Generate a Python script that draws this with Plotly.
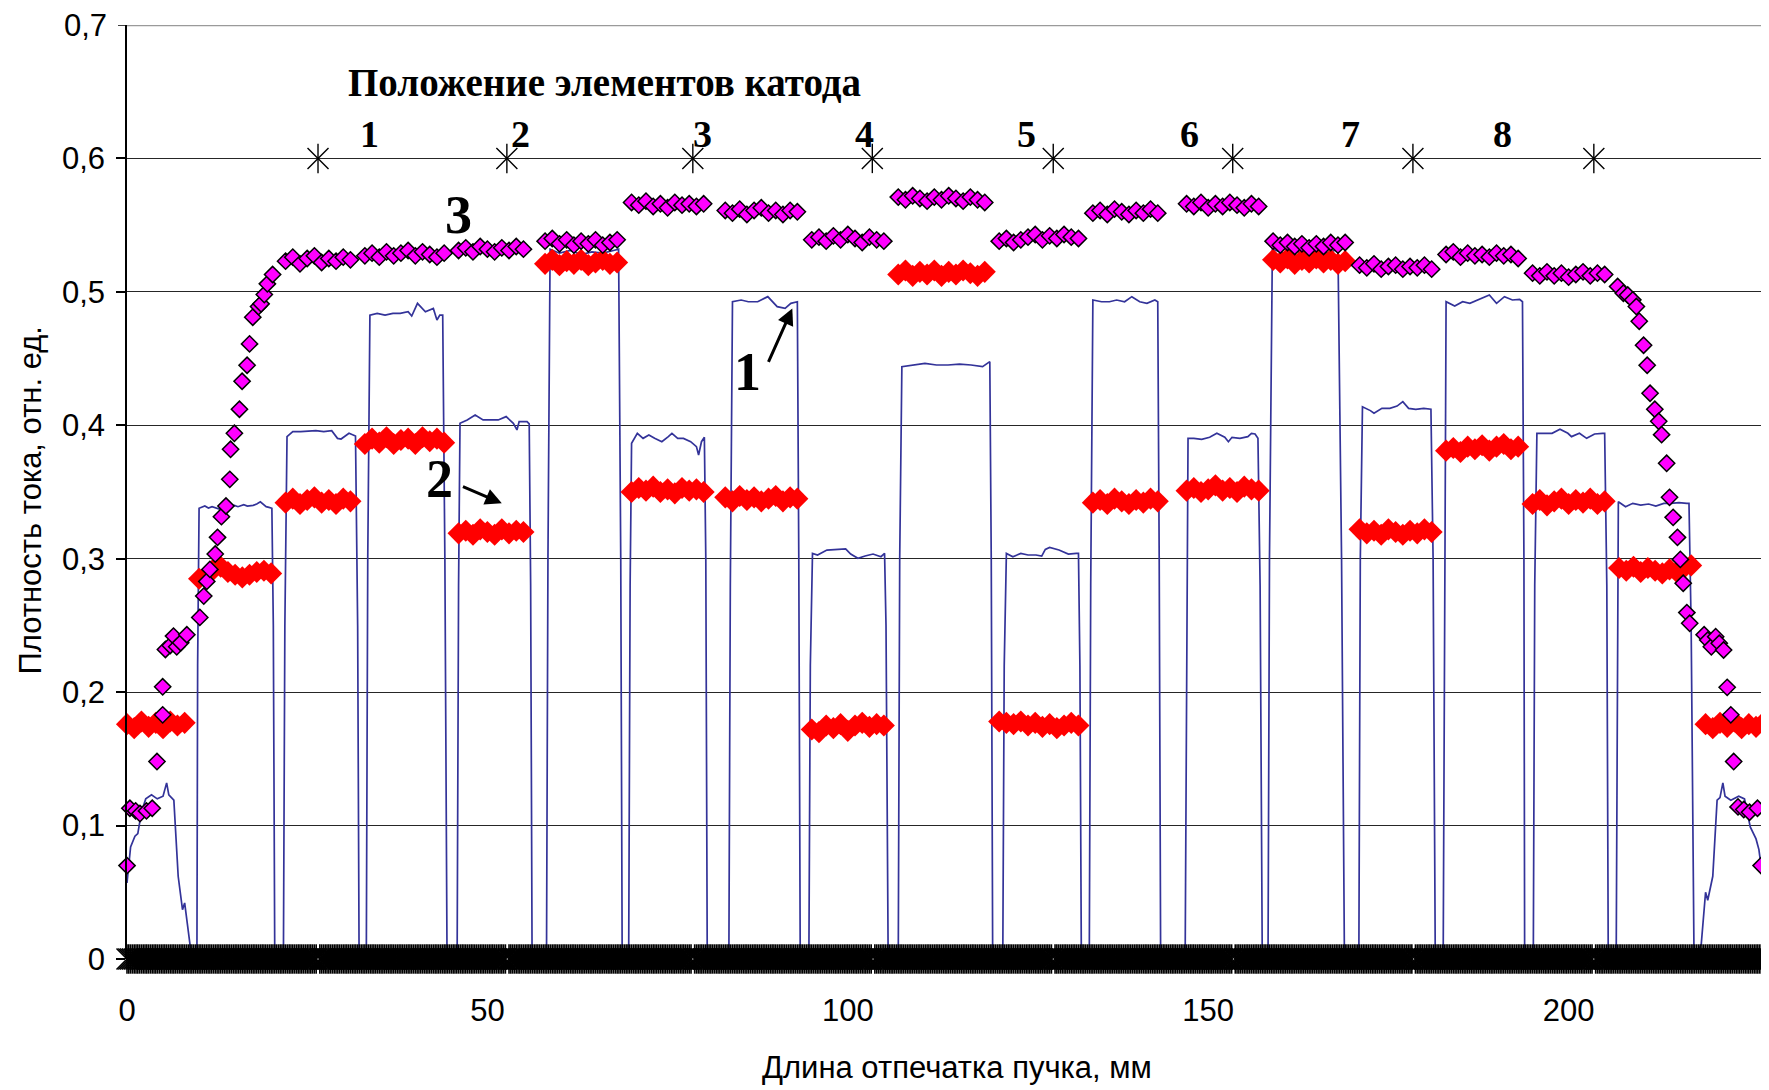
import plotly.graph_objects as go

# ---------------- data ----------------
grid_mm = list(range(229))  # measurement positions, 1 mm step

# curve 2 (red diamonds), one value per grid position
red_y = (
    [0.176, 0.173, 0.178, 0.174, 0.177, 0.173, 0.178, 0.175, 0.177] + [0.0] +
    [0.285, 0.287, 0.292, 0.294, 0.290, 0.288, 0.286, 0.288, 0.290, 0.291, 0.289] + [0.0] +
    [0.342, 0.345, 0.341, 0.344, 0.346, 0.342, 0.344, 0.341, 0.345, 0.343] + [0.0] +
    [0.386, 0.390, 0.387, 0.391, 0.386, 0.389, 0.390, 0.386, 0.391, 0.388, 0.390, 0.387] + [0.0] +
    [0.319, 0.321, 0.318, 0.322, 0.320, 0.318, 0.322, 0.319, 0.321, 0.320] + [0.0, 0.0] +
    [0.521, 0.524, 0.520, 0.523, 0.521, 0.524, 0.520, 0.522, 0.524, 0.521, 0.522] + [0.0] +
    [0.350, 0.353, 0.351, 0.354, 0.350, 0.352, 0.349, 0.353, 0.351, 0.352, 0.350] + [0.0, 0.0] +
    [0.346, 0.343, 0.347, 0.344, 0.346, 0.343, 0.345, 0.347, 0.343, 0.346, 0.345] + [0.0] +
    [0.172, 0.170, 0.175, 0.173, 0.176, 0.171, 0.175, 0.177, 0.174, 0.176, 0.175] + [0.0] +
    [0.513, 0.516, 0.512, 0.515, 0.513, 0.516, 0.512, 0.515, 0.513, 0.516, 0.514, 0.512, 0.515] + [0.0] +
    [0.178, 0.177, 0.176, 0.178, 0.175, 0.177, 0.174, 0.176, 0.173, 0.175, 0.177, 0.175] + [0.0] +
    [0.342, 0.344, 0.341, 0.345, 0.343, 0.341, 0.344, 0.342, 0.345, 0.343] + [0.0, 0.0, 0.0] +
    [0.351, 0.353, 0.350, 0.352, 0.355, 0.351, 0.353, 0.350, 0.354, 0.352, 0.351] + [0.0] +
    [0.524, 0.522, 0.525, 0.521, 0.524, 0.522, 0.525, 0.522, 0.524, 0.521, 0.523] + [0.0] +
    [0.322, 0.319, 0.321, 0.318, 0.322, 0.320, 0.318, 0.321, 0.319, 0.322, 0.320] + [0.0] +
    [0.381, 0.383, 0.380, 0.384, 0.382, 0.385, 0.381, 0.384, 0.386, 0.382, 0.384] + [0.0] +
    [0.341, 0.344, 0.340, 0.343, 0.345, 0.341, 0.344, 0.342, 0.345, 0.341, 0.343] + [0.0] +
    [0.293, 0.291, 0.294, 0.290, 0.293, 0.291, 0.289, 0.292, 0.290, 0.293, 0.295] + [0.0] +
    [0.176, 0.173, 0.177, 0.174, 0.178, 0.173, 0.176, 0.174, 0.177, 0.175]
)

# curve 3 (magenta diamonds), plateau part on the grid (None = no point)
mag_y = (
    [None] * 22 +
    [0.523, 0.526, 0.521, 0.525, 0.527, 0.522, 0.525, 0.523, 0.526, 0.524] + [0.0] +
    [0.527, 0.529, 0.526, 0.530, 0.527, 0.529, 0.531, 0.527, 0.530, 0.528, 0.526, 0.529] + [0.0] +
    [0.531, 0.533, 0.530, 0.534, 0.532, 0.530, 0.533, 0.531, 0.534, 0.532] + [0.0, 0.0] +
    [0.538, 0.540, 0.536, 0.539, 0.535, 0.538, 0.536, 0.539, 0.535, 0.537, 0.539] + [0.0] +
    [0.567, 0.565, 0.568, 0.564, 0.566, 0.563, 0.567, 0.565, 0.566, 0.564, 0.566] + [0.0, 0.0] +
    [0.561, 0.559, 0.562, 0.558, 0.561, 0.563, 0.559, 0.561, 0.558, 0.561, 0.560] + [0.0] +
    [0.539, 0.541, 0.538, 0.542, 0.539, 0.543, 0.540, 0.537, 0.541, 0.539, 0.538] + [0.0] +
    [0.571, 0.569, 0.572, 0.570, 0.568, 0.571, 0.569, 0.572, 0.570, 0.568, 0.571, 0.569, 0.567] + [0.0] +
    [0.538, 0.540, 0.537, 0.539, 0.541, 0.543, 0.539, 0.542, 0.540, 0.543, 0.541, 0.540] + [0.0] +
    [0.559, 0.561, 0.558, 0.562, 0.560, 0.558, 0.561, 0.559, 0.562, 0.559] + [0.0, 0.0, 0.0] +
    [0.566, 0.564, 0.567, 0.563, 0.566, 0.564, 0.567, 0.565, 0.563, 0.566, 0.564] + [0.0] +
    [0.538, 0.535, 0.537, 0.534, 0.536, 0.533, 0.536, 0.534, 0.537, 0.535, 0.537] + [0.0] +
    [0.520, 0.518, 0.521, 0.517, 0.519, 0.520, 0.517, 0.519, 0.518, 0.520, 0.517] + [0.0] +
    [0.528, 0.530, 0.526, 0.529, 0.527, 0.528, 0.526, 0.529, 0.527, 0.528, 0.525] + [0.0] +
    [0.514, 0.512, 0.515, 0.512, 0.514, 0.511, 0.513, 0.515, 0.512, 0.514, 0.513] +
    [None] * 23
)

# curve 3, rising and falling flanks
mag_left_x = [0.0, 0.4, 1.2, 1.8, 2.7, 3.5, 4.16, 4.95, 4.95, 5.33, 6.0, 6.45, 6.9, 7.45, 8.3,
              10.1, 10.65, 11.07, 11.5, 12.24, 12.56, 13.1, 13.73, 14.26, 14.37, 14.9, 15.6,
              15.97, 16.66, 17.0, 17.45, 18.25, 18.6, 19.05, 19.47, 20.2]
mag_left_y = [0.070, 0.113, 0.111, 0.109, 0.111, 0.113, 0.148, 0.183, 0.204, 0.232, 0.235, 0.242,
              0.234, 0.237, 0.243, 0.256, 0.272, 0.283, 0.292, 0.3035, 0.316, 0.3315, 0.3395,
              0.3595, 0.382, 0.394, 0.412, 0.433, 0.445, 0.461, 0.481, 0.489, 0.491, 0.498,
              0.506, 0.513]
mag_right_x = [206.8, 207.6, 208.2, 208.9, 209.4, 209.8, 210.4, 210.9, 211.3, 211.96, 212.5,
               212.9, 213.6, 214.0, 214.5, 215.1, 215.5, 215.9, 216.4, 216.8, 218.8, 219.3,
               219.8, 220.4, 220.9, 221.5, 222.0, 222.5, 222.9, 223.5, 224.3, 225.1, 226.2, 226.7]
mag_right_y = [0.504, 0.499, 0.4976, 0.494, 0.489, 0.478, 0.460, 0.445, 0.424, 0.412, 0.403,
               0.393, 0.3715, 0.346, 0.331, 0.316, 0.2995, 0.2816, 0.2596, 0.2516, 0.243, 0.239,
               0.234, 0.2416, 0.2366, 0.2316, 0.2036, 0.183, 0.148, 0.114, 0.112, 0.110, 0.113,
               0.070]

# curve 1 (blue line)
beam_x = (
    [0.0, 0.5, 1.1, 1.5, 2.0, 2.6, 3.4, 4.2, 5.0, 5.5, 5.8, 6.5, 7.1, 7.7, 8.0, 8.7, 9.0] +
    [9.7, 9.8, 10.0, 10.8, 11.3, 11.8, 12.8, 13.6, 14.9, 15.4, 16.2, 16.7, 17.5, 18.0, 18.5, 18.9, 19.3, 19.7, 20.1, 20.3, 20.5] +
    [21.7, 21.9, 22.2, 23.0, 24.1, 24.9, 26.2, 27.3, 28.4, 29.2, 29.7, 30.8, 31.7, 32.0, 32.2] +
    [33.2, 33.4, 33.7, 34.7, 35.8, 36.9, 37.9, 39.0, 39.5, 40.3, 41.4, 42.5, 43.0, 43.4, 43.8, 44.1, 44.4] +
    [45.8, 46.0, 46.2, 47.2, 48.3, 49.4, 50.4, 51.5, 52.6, 53.6, 54.1, 54.4, 55.5, 55.8, 56.0, 56.2] +
    [58.2, 58.4, 58.7, 60.0, 61.5, 63.0, 64.5, 66.0, 67.5, 68.2, 68.5, 68.7] +
    [69.6, 69.8, 70.0, 70.8, 71.6, 72.4, 73.2, 74.2, 75.1, 75.6, 76.4, 77.2, 78.2, 79.0, 79.3, 79.7, 80.1, 80.3, 80.5] +
    [83.5, 83.7, 84.0, 85.2, 86.2, 87.5, 88.9, 90.2, 91.3, 92.1, 93.0, 93.2, 93.4] +
    [94.6, 94.8, 95.1, 95.8, 97.1, 98.7, 99.7, 100.4, 101.4, 102.4, 103.5, 104.6, 105.1, 105.3, 105.6] +
    [107.0, 107.2, 107.5, 109.1, 110.7, 112.3, 113.9, 115.5, 117.1, 118.7, 119.7, 119.9, 120.1] +
    [121.5, 121.7, 122.0, 122.9, 124.0, 125.0, 126.1, 126.9, 127.4, 128.0, 129.3, 130.6, 131.7, 132.0, 132.2, 132.4] +
    [133.5, 133.7, 134.0, 135.2, 136.3, 137.3, 138.4, 139.4, 140.5, 141.5, 142.6, 143.0, 143.2, 143.4] +
    [146.8, 147.0, 147.2, 148.0, 149.1, 150.2, 151.2, 152.3, 152.8, 153.3, 154.4, 155.5, 156.0, 156.5, 156.9, 157.2, 157.5] +
    [158.3, 158.5, 158.9, 160.5, 162.0, 163.5, 165.0, 166.5, 168.0, 168.5, 168.9] +
    [170.9, 171.1, 171.4, 172.5, 173.0, 174.1, 175.2, 176.2, 177.0, 177.8, 178.8, 179.9, 180.9, 181.2, 181.5] +
    [182.6, 182.8, 183.0, 184.2, 185.3, 186.3, 187.4, 188.4, 189.0, 190.0, 191.1, 192.2, 193.2, 193.6, 193.8, 193.9] +
    [195.1, 195.3, 195.6, 196.7, 197.7, 198.8, 199.9, 200.4, 201.5, 202.5, 203.6, 204.7, 205.0, 205.3, 205.5] +
    [206.6, 206.8, 206.9, 207.9, 208.9, 210.0, 211.1, 212.1, 213.2, 214.2, 215.3, 216.4, 216.7, 217.0, 217.4] +
    [218.4, 219.0, 219.3, 220.0, 220.6, 221.0, 221.4, 221.7, 222.5, 223.6, 224.4, 225.2, 226.0, 226.4, 227.0]
)
beam_y = (
    [0.057, 0.084, 0.092, 0.094, 0.110, 0.120, 0.123, 0.120, 0.122, 0.132, 0.123, 0.119, 0.062, 0.037, 0.042, 0.011, 0.0] +
    [0.0, 0.22, 0.3378, 0.3395, 0.338, 0.339, 0.3372, 0.3395, 0.340, 0.339, 0.3405, 0.3395, 0.340, 0.341, 0.3427, 0.3405, 0.339, 0.3385, 0.3378, 0.25, 0.0] +
    [0.0, 0.25, 0.3915, 0.3952, 0.3952, 0.3957, 0.396, 0.3952, 0.396, 0.3902, 0.3897, 0.394, 0.392, 0.25, 0.0] +
    [0.0, 0.3, 0.4826, 0.4839, 0.4826, 0.4839, 0.4839, 0.4851, 0.4819, 0.4914, 0.4851, 0.4876, 0.4789, 0.4826, 0.4826, 0.3, 0.0] +
    [0.0, 0.28, 0.4015, 0.404, 0.4077, 0.404, 0.404, 0.404, 0.4065, 0.4015, 0.3965, 0.4027, 0.4027, 0.401, 0.28, 0.0] +
    [0.0, 0.3, 0.532, 0.529, 0.531, 0.528, 0.530, 0.529, 0.531, 0.532, 0.3, 0.0] +
    [0.0, 0.28, 0.3865, 0.394, 0.3902, 0.3927, 0.3902, 0.3877, 0.3915, 0.394, 0.3902, 0.3902, 0.3877, 0.384, 0.3777, 0.3877, 0.391, 0.3, 0.0] +
    [0.0, 0.28, 0.4926, 0.4939, 0.4926, 0.4926, 0.4964, 0.4889, 0.4876, 0.4914, 0.4926, 0.3, 0.0] +
    [0.0, 0.22, 0.304, 0.3028, 0.3065, 0.3073, 0.3073, 0.3035, 0.3003, 0.302, 0.3035, 0.3015, 0.304, 0.25, 0.0] +
    [0.0, 0.3, 0.4439, 0.4452, 0.4464, 0.4452, 0.4452, 0.4459, 0.4452, 0.4439, 0.4477, 0.3, 0.0] +
    [0.0, 0.22, 0.304, 0.3015, 0.304, 0.3028, 0.3028, 0.302, 0.307, 0.3085, 0.3065, 0.3035, 0.304, 0.304, 0.22, 0.0] +
    [0.0, 0.28, 0.4939, 0.4926, 0.4926, 0.4939, 0.4926, 0.4964, 0.4926, 0.4914, 0.4939, 0.4926, 0.3, 0.0] +
    [0.0, 0.25, 0.3902, 0.3902, 0.3895, 0.391, 0.394, 0.391, 0.3877, 0.391, 0.3902, 0.3915, 0.394, 0.3935, 0.3902, 0.28, 0.0] +
    [0.0, 0.3, 0.532, 0.529, 0.531, 0.528, 0.530, 0.529, 0.532, 0.3, 0.0] +
    [0.0, 0.3, 0.4139, 0.411, 0.409, 0.4127, 0.4127, 0.4144, 0.4177, 0.4127, 0.412, 0.4127, 0.412, 0.3, 0.0] +
    [0.0, 0.3, 0.4926, 0.4894, 0.4926, 0.4914, 0.4939, 0.4964, 0.4976, 0.4914, 0.4964, 0.4939, 0.4944, 0.4926, 0.3, 0.0] +
    [0.0, 0.28, 0.394, 0.394, 0.394, 0.397, 0.394, 0.3915, 0.394, 0.3902, 0.3935, 0.394, 0.394, 0.28, 0.0] +
    [0.0, 0.22, 0.3427, 0.339, 0.3415, 0.3402, 0.341, 0.3395, 0.3415, 0.3415, 0.342, 0.3415, 0.3415, 0.25, 0.0] +
    [0.011, 0.05, 0.044, 0.062, 0.119, 0.121, 0.132, 0.122, 0.119, 0.122, 0.120, 0.099, 0.09, 0.082, 0.057]
)

# cathode element positions (asterisks at 0.6) and their numbers
cathode_x = [26.5, 52.7, 78.5, 103.4, 128.5, 153.4, 178.4, 203.5]
cathode_level = 0.6
element_labels = ["1", "2", "3", "4", "5", "6", "7", "8"]
element_label_x = [33.6, 54.6, 79.8, 102.3, 124.8, 147.4, 169.8, 190.8]
element_label_y = 0.618

# the asterisk series is zero everywhere else (dense sampling)
baseline_step = 0.25
baseline_x = [i * baseline_step for i in range(913)
              if min(abs(i * baseline_step - c) for c in cathode_x) > 0.13]
baseline_y = [0.0] * len(baseline_x)

y_ticks = [0, 0.1, 0.2, 0.3, 0.4, 0.5, 0.6, 0.7]
y_ticktext = ["0", "0,1", "0,2", "0,3", "0,4", "0,5", "0,6", "0,7"]
x_ticks = [0, 50, 100, 150, 200]
x_ticktext = ["0", "50", "100", "150", "200"]

# ---------------- figure ----------------
BODY = 8                      # default page margin around the plot div
W, H = 1769 - BODY, 1090 - BODY
ML, MR, MT, MB = 127 - BODY, 0, 25 - BODY, 131
PW, PH = W - ML - MR, H - MT - MB
PLOT_LEFT, PLOT_BOTTOM = 127, 959   # in page pixels

fig = go.Figure()

fig.add_trace(go.Scatter(x=beam_x, y=beam_y, mode="lines",
                         line=dict(color="#333399", width=1.7), hoverinfo="skip"))

fig.add_trace(go.Scatter(x=grid_mm, y=red_y, mode="markers", cliponaxis=False,
                         marker=dict(symbol="diamond", size=17, color="#FF0000",
                                     line=dict(width=0)), hoverinfo="skip"))

mag_marker = dict(symbol="diamond", size=12.5, color="#FF00FF", line=dict(color="black", width=1.5))
fig.add_trace(go.Scatter(x=grid_mm, y=mag_y, mode="markers", cliponaxis=False,
                         marker=mag_marker, hoverinfo="skip"))
fig.add_trace(go.Scatter(x=mag_left_x, y=mag_left_y, mode="markers", cliponaxis=False,
                         marker=mag_marker, hoverinfo="skip"))
fig.add_trace(go.Scatter(x=mag_right_x, y=mag_right_y, mode="markers", cliponaxis=False,
                         marker=mag_marker, hoverinfo="skip"))

# asterisk = X + vertical stroke
for sx, sy, lw in [(baseline_x, baseline_y, 1.6), (cathode_x, [cathode_level] * len(cathode_x), 1.4)]:
    for sym in ["x-thin-open", "line-ns-open"]:
        fig.add_trace(go.Scatter(x=sx, y=sy, mode="markers", cliponaxis=False,
                                 marker=dict(symbol=sym, size=21, color="black",
                                             line=dict(color="black", width=lw)),
                                 hoverinfo="skip"))

serif = "Liberation Serif, Times New Roman, serif"
sans = "Liberation Sans, Arial, sans-serif"
TICK_SIZE = 31

annotations = []
annotations.append(dict(x=66.3, y=0.657, xref="x", yref="y", showarrow=False,
                        text="<b>Положение элементов катода</b>",
                        font=dict(family=serif, size=39, color="black")))
for lab, lx in zip(element_labels, element_label_x):
    annotations.append(dict(x=lx, y=element_label_y, xref="x", yref="y", showarrow=False,
                            text="<b>" + lab + "</b>",
                            font=dict(family=serif, size=38, color="black")))
annotations.append(dict(x=46.0, y=0.5576, xref="x", yref="y", showarrow=False,
                        text="<b>3</b>", font=dict(family=serif, size=54, color="black")))
annotations.append(dict(x=86.1, y=0.4396, xref="x", yref="y", showarrow=False,
                        text="<b>1</b>", font=dict(family=serif, size=54, color="black")))
annotations.append(dict(x=43.4, y=0.3597, xref="x", yref="y", showarrow=False,
                        text="<b>2</b>", font=dict(family=serif, size=54, color="black")))
# arrows
annotations.append(dict(x=92.3, y=0.4876, ax=88.9, ay=0.4464, xref="x", yref="y",
                        axref="x", ayref="y", text="", showarrow=True, arrowhead=2,
                        arrowsize=1.1, arrowwidth=3, arrowcolor="black", standoff=0, startstandoff=0))
annotations.append(dict(x=52.0, y=0.3415, ax=46.4, ay=0.3545, xref="x", yref="y",
                        axref="x", ayref="y", text="", showarrow=True, arrowhead=2,
                        arrowsize=1.1, arrowwidth=3, arrowcolor="black", standoff=0, startstandoff=0))
# top tick label (drawn as text so it is not dropped at the figure edge)
annotations.append(dict(x=(109 - PLOT_LEFT) / PW, y=y_ticks[-1], xref="paper", yref="y",
                        showarrow=False, xanchor="right", yanchor="middle",
                        text=y_ticktext[-1],
                        font=dict(family=sans, size=TICK_SIZE, color="black")))
# axis titles
annotations.append(dict(x=(30 - PLOT_LEFT) / PW, y=(PLOT_BOTTOM - 500.5) / PH, xref="paper", yref="paper",
                        showarrow=False, textangle=-90, xanchor="center", yanchor="middle",
                        text="Плотность тока, отн. ед.",
                        font=dict(family=sans, size=31, color="black")))
annotations.append(dict(x=(957 - PLOT_LEFT) / PW, y=(PLOT_BOTTOM - 1067) / PH, xref="paper", yref="paper",
                        showarrow=False, xanchor="center", yanchor="middle",
                        text="Длина отпечатка пучка, мм",
                        font=dict(family=sans, size=31, color="black")))

fig.update_layout(
    width=W, height=H,
    margin=dict(l=ML, r=MR, t=MT, b=MB, pad=0),
    plot_bgcolor="white", paper_bgcolor="white",
    showlegend=False, hovermode=False,
    annotations=annotations,
    shapes=[dict(type="line", xref="paper", yref="y", x0=0, x1=1, y0=0.7, y1=0.7,
                 line=dict(color="#9a9a9a", width=2.5)),
            dict(type="line", xref="paper", yref="y", x0=-9 / PW, x1=0, y0=0.7, y1=0.7,
                 line=dict(color="black", width=1.5))],
)
fig.update_xaxes(range=[0, 227.8], tickvals=x_ticks, ticktext=x_ticktext,
                 showgrid=False, zeroline=False, showline=False, ticks="",
                 ticklabelstandoff=30, automargin=False,
                 tickfont=dict(family=sans, size=TICK_SIZE, color="black"))
fig.update_yaxes(range=[0, 0.7], tickvals=y_ticks[:-1], ticktext=y_ticktext[:-1],
                 showgrid=True, gridcolor="#262626", gridwidth=1.2, zeroline=False,
                 showline=True, linecolor="black", linewidth=1.5,
                 ticks="outside", ticklen=9, tickcolor="black", tickwidth=1.5,
                 ticklabelstandoff=5, automargin=False,
                 tickfont=dict(family=sans, size=TICK_SIZE, color="black"))

fig.write_html("out.html")
